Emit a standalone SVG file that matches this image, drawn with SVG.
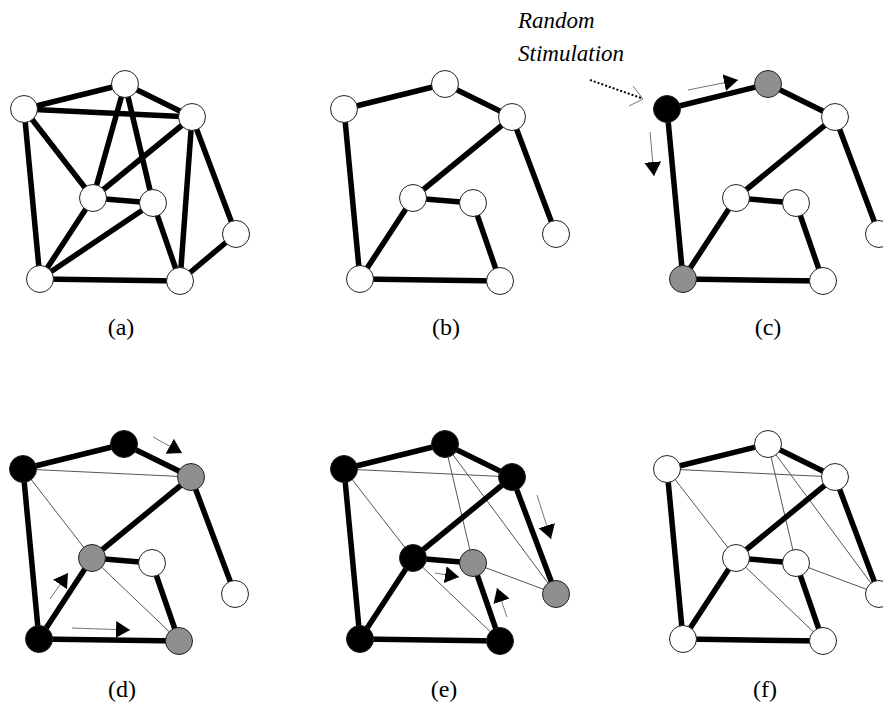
<svg xmlns="http://www.w3.org/2000/svg" width="883" height="707" viewBox="0 0 883 707">
<style>
.e{stroke:#000;stroke-width:5.5;stroke-linecap:round;fill:none}
.t{stroke:#555;stroke-width:1;fill:none}
.a{stroke:#777;stroke-width:1;fill:none}
circle{stroke:#222;stroke-width:1}
.w{fill:#fff}
.g{fill:#8f8f8f}
.b{fill:#000}
.lbl{font-family:"Liberation Serif","Times New Roman",serif;font-size:24px;fill:#000;text-anchor:middle}
.it{font-family:"Liberation Serif","Times New Roman",serif;font-size:23px;font-style:italic;fill:#000}
</style>
<defs>
<marker id="ah" markerUnits="userSpaceOnUse" markerWidth="16" markerHeight="18" refX="14" refY="8.5" orient="auto">
<path d="M0,0 L14,8.5 L0,17 Z" fill="#000"/>
</marker>
</defs>
<g id="connectors">
<!-- (a) -->
<line class="e" x1="24" y1="109" x2="125" y2="84"/>
<line class="e" x1="24" y1="109" x2="192" y2="117"/>
<line class="e" x1="125" y1="84" x2="192" y2="117"/>
<line class="e" x1="24" y1="109" x2="93" y2="198"/>
<line class="e" x1="24" y1="109" x2="40" y2="279"/>
<line class="e" x1="125" y1="84" x2="93" y2="198"/>
<line class="e" x1="125" y1="84" x2="153" y2="203"/>
<line class="e" x1="192" y1="117" x2="93" y2="198"/>
<line class="e" x1="192" y1="117" x2="180" y2="281"/>
<line class="e" x1="192" y1="117" x2="236" y2="234"/>
<line class="e" x1="93" y1="198" x2="153" y2="203"/>
<line class="e" x1="93" y1="198" x2="40" y2="279"/>
<line class="e" x1="153" y1="203" x2="40" y2="279"/>
<line class="e" x1="153" y1="203" x2="180" y2="281"/>
<line class="e" x1="40" y1="279" x2="180" y2="281"/>
<line class="e" x1="236" y1="234" x2="180" y2="281"/>
<!-- (b) -->
<line class="e" x1="344" y1="109" x2="445" y2="84"/>
<line class="e" x1="445" y1="84" x2="512" y2="117"/>
<line class="e" x1="344" y1="109" x2="360" y2="279"/>
<line class="e" x1="512" y1="117" x2="413" y2="198"/>
<line class="e" x1="512" y1="117" x2="556" y2="234"/>
<line class="e" x1="413" y1="198" x2="473" y2="203"/>
<line class="e" x1="413" y1="198" x2="360" y2="279"/>
<line class="e" x1="473" y1="203" x2="500" y2="281"/>
<line class="e" x1="360" y1="279" x2="500" y2="281"/>
<!-- (c) -->
<line class="e" x1="667" y1="109" x2="768" y2="84"/>
<line class="e" x1="768" y1="84" x2="835" y2="117"/>
<line class="e" x1="667" y1="109" x2="683" y2="279"/>
<line class="e" x1="835" y1="117" x2="736" y2="198"/>
<line class="e" x1="835" y1="117" x2="879" y2="234"/>
<line class="e" x1="736" y1="198" x2="796" y2="203"/>
<line class="e" x1="736" y1="198" x2="683" y2="279"/>
<line class="e" x1="796" y1="203" x2="823" y2="281"/>
<line class="e" x1="683" y1="279" x2="823" y2="281"/>
<line x1="590" y1="80" x2="641" y2="98" stroke="#000" stroke-width="2" stroke-dasharray="2,2"/>
<polyline class="a" points="633,86 643,99 629,106"/>
<line class="a" x1="688" y1="90" x2="738" y2="80" marker-end="url(#ah)"/>
<line class="a" x1="650" y1="132" x2="654" y2="176" marker-end="url(#ah)"/>
<!-- (d) -->
<line class="t" x1="23" y1="469" x2="191" y2="477"/>
<line class="t" x1="23" y1="469" x2="92" y2="558"/>
<line class="t" x1="92" y1="558" x2="179" y2="641"/>
<line class="e" x1="23" y1="469" x2="124" y2="444"/>
<line class="e" x1="124" y1="444" x2="191" y2="477"/>
<line class="e" x1="23" y1="469" x2="39" y2="639"/>
<line class="e" x1="191" y1="477" x2="92" y2="558"/>
<line class="e" x1="191" y1="477" x2="235" y2="594"/>
<line class="e" x1="92" y1="558" x2="152" y2="563"/>
<line class="e" x1="92" y1="558" x2="39" y2="639"/>
<line class="e" x1="152" y1="563" x2="179" y2="641"/>
<line class="e" x1="39" y1="639" x2="179" y2="641"/>
<line class="a" x1="153" y1="437" x2="182" y2="453" marker-end="url(#ah)"/>
<line class="a" x1="50" y1="599" x2="68" y2="573" marker-end="url(#ah)"/>
<line class="a" x1="72" y1="628" x2="130" y2="630" marker-end="url(#ah)"/>
<!-- (e) -->
<line class="t" x1="344" y1="469" x2="512" y2="477"/>
<line class="t" x1="344" y1="469" x2="413" y2="558"/>
<line class="t" x1="445" y1="444" x2="473" y2="563"/>
<line class="t" x1="445" y1="444" x2="556" y2="594"/>
<line class="t" x1="473" y1="563" x2="556" y2="594"/>
<line class="t" x1="413" y1="558" x2="500" y2="641"/>
<line class="e" x1="344" y1="469" x2="445" y2="444"/>
<line class="e" x1="445" y1="444" x2="512" y2="477"/>
<line class="e" x1="344" y1="469" x2="360" y2="639"/>
<line class="e" x1="512" y1="477" x2="413" y2="558"/>
<line class="e" x1="512" y1="477" x2="556" y2="594"/>
<line class="e" x1="413" y1="558" x2="473" y2="563"/>
<line class="e" x1="413" y1="558" x2="360" y2="639"/>
<line class="e" x1="473" y1="563" x2="500" y2="641"/>
<line class="e" x1="360" y1="639" x2="500" y2="641"/>
<line class="a" x1="537" y1="495" x2="551" y2="539" marker-end="url(#ah)"/>
<line class="a" x1="435" y1="573" x2="459" y2="577" marker-end="url(#ah)"/>
<line class="a" x1="507" y1="617" x2="497" y2="588" marker-end="url(#ah)"/>
<!-- (f) -->
<line class="t" x1="667" y1="469" x2="835" y2="477"/>
<line class="t" x1="667" y1="469" x2="736" y2="558"/>
<line class="t" x1="768" y1="444" x2="796" y2="563"/>
<line class="t" x1="768" y1="444" x2="879" y2="594"/>
<line class="t" x1="796" y1="563" x2="879" y2="594"/>
<line class="t" x1="736" y1="558" x2="823" y2="641"/>
<line class="e" x1="667" y1="469" x2="768" y2="444"/>
<line class="e" x1="768" y1="444" x2="835" y2="477"/>
<line class="e" x1="667" y1="469" x2="683" y2="639"/>
<line class="e" x1="835" y1="477" x2="736" y2="558"/>
<line class="e" x1="835" y1="477" x2="879" y2="594"/>
<line class="e" x1="736" y1="558" x2="796" y2="563"/>
<line class="e" x1="736" y1="558" x2="683" y2="639"/>
<line class="e" x1="796" y1="563" x2="823" y2="641"/>
<line class="e" x1="683" y1="639" x2="823" y2="641"/>
</g>
<!-- panel (a) nodes -->
<g id="a1"><circle class="w" cx="24" cy="109" r="13.5"/></g>
<g id="a2"><circle class="w" cx="125" cy="84" r="13.5"/></g>
<g id="a3"><circle class="w" cx="192" cy="117" r="13.5"/></g>
<g id="a4"><circle class="w" cx="93" cy="198" r="13.5"/></g>
<g id="a5"><circle class="w" cx="153" cy="203" r="13.5"/></g>
<g id="a6"><circle class="w" cx="236" cy="234" r="13.5"/></g>
<g id="a7"><circle class="w" cx="40" cy="279" r="13.5"/></g>
<g id="a8"><circle class="w" cx="180" cy="281" r="13.5"/></g>
<!-- panel (b) nodes -->
<g id="b1"><circle class="w" cx="344" cy="109" r="13.5"/></g>
<g id="b2"><circle class="w" cx="445" cy="84" r="13.5"/></g>
<g id="b3"><circle class="w" cx="512" cy="117" r="13.5"/></g>
<g id="b4"><circle class="w" cx="413" cy="198" r="13.5"/></g>
<g id="b5"><circle class="w" cx="473" cy="203" r="13.5"/></g>
<g id="b6"><circle class="w" cx="556" cy="234" r="13.5"/></g>
<g id="b7"><circle class="w" cx="360" cy="279" r="13.5"/></g>
<g id="b8"><circle class="w" cx="500" cy="281" r="13.5"/></g>
<!-- panel (c) nodes -->
<g id="c1"><circle class="b" cx="667" cy="109" r="13.5"/></g>
<g id="c2"><circle class="g" cx="768" cy="84" r="13.5"/></g>
<g id="c3"><circle class="w" cx="835" cy="117" r="13.5"/></g>
<g id="c4"><circle class="w" cx="736" cy="198" r="13.5"/></g>
<g id="c5"><circle class="w" cx="796" cy="203" r="13.5"/></g>
<g id="c6"><circle class="w" cx="879" cy="234" r="13.5"/></g>
<g id="c7"><circle class="g" cx="683" cy="279" r="13.5"/></g>
<g id="c8"><circle class="w" cx="823" cy="281" r="13.5"/></g>
<!-- panel (d) nodes -->
<g id="d1"><circle class="b" cx="23" cy="469" r="13.5"/></g>
<g id="d2"><circle class="b" cx="124" cy="444" r="13.5"/></g>
<g id="d3"><circle class="g" cx="191" cy="477" r="13.5"/></g>
<g id="d4"><circle class="g" cx="92" cy="558" r="13.5"/></g>
<g id="d5"><circle class="w" cx="152" cy="563" r="13.5"/></g>
<g id="d6"><circle class="w" cx="235" cy="594" r="13.5"/></g>
<g id="d7"><circle class="b" cx="39" cy="639" r="13.5"/></g>
<g id="d8"><circle class="g" cx="179" cy="641" r="13.5"/></g>
<!-- panel (e) nodes -->
<g id="e1"><circle class="b" cx="344" cy="469" r="13.5"/></g>
<g id="e2"><circle class="b" cx="445" cy="444" r="13.5"/></g>
<g id="e3"><circle class="b" cx="512" cy="477" r="13.5"/></g>
<g id="e4"><circle class="b" cx="413" cy="558" r="13.5"/></g>
<g id="e5"><circle class="g" cx="473" cy="563" r="13.5"/></g>
<g id="e6"><circle class="g" cx="556" cy="594" r="13.5"/></g>
<g id="e7"><circle class="b" cx="360" cy="639" r="13.5"/></g>
<g id="e8"><circle class="b" cx="500" cy="641" r="13.5"/></g>
<!-- panel (f) nodes -->
<g id="f1"><circle class="w" cx="667" cy="469" r="13.5"/></g>
<g id="f2"><circle class="w" cx="768" cy="444" r="13.5"/></g>
<g id="f3"><circle class="w" cx="835" cy="477" r="13.5"/></g>
<g id="f4"><circle class="w" cx="736" cy="558" r="13.5"/></g>
<g id="f5"><circle class="w" cx="796" cy="563" r="13.5"/></g>
<g id="f6"><circle class="w" cx="879" cy="594" r="13.5"/></g>
<g id="f7"><circle class="w" cx="683" cy="639" r="13.5"/></g>
<g id="f8"><circle class="w" cx="823" cy="641" r="13.5"/></g>
<!-- labels -->
<g id="labels">
<text class="it" x="518" y="28">Random</text>
<text class="it" x="518" y="61">Stimulation</text>
<text class="lbl" x="121" y="335">(a)</text>
<text class="lbl" x="446" y="335">(b)</text>
<text class="lbl" x="768" y="335">(c)</text>
<text class="lbl" x="122" y="697">(d)</text>
<text class="lbl" x="444" y="697">(e)</text>
<text class="lbl" x="765" y="697">(f)</text>
</g>
</svg>
